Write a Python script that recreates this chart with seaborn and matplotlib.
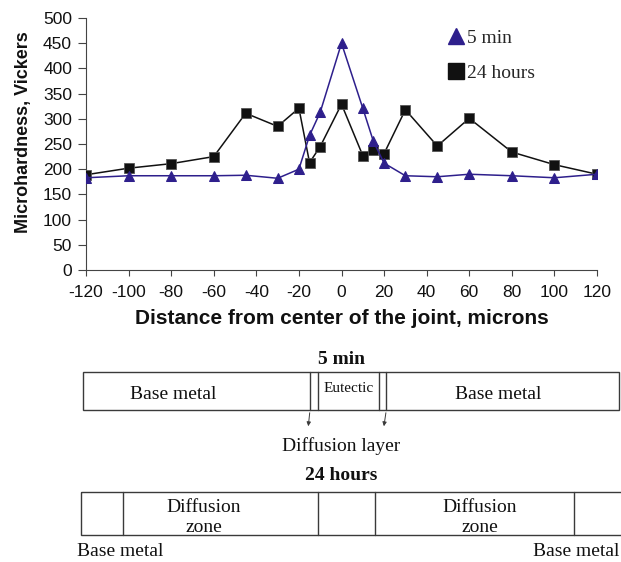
import matplotlib
matplotlib.use("Agg")
import matplotlib.pyplot as plt
from matplotlib.lines import Line2D
from matplotlib.patches import Rectangle
import seaborn as sns
import pandas as pd

# ---- data ----
dist_5min = [-120, -100, -80, -60, -45, -30, -20, -15, -10, 0, 10, 15, 20, 30, 45, 60, 80, 100, 120]
hv_5min = [183, 187, 187, 187, 188, 182, 200, 267, 313, 450, 321, 255, 212, 187, 185, 190, 187, 183, 190]
dist_24h = [-120, -100, -80, -60, -45, -30, -20, -15, -10, 0, 10, 15, 20, 30, 45, 60, 80, 100, 120]
hv_24h = [189, 202, 211, 225, 311, 285, 321, 213, 245, 329, 227, 239, 231, 318, 246, 301, 234, 209, 190]
series_names = ["5 min", "24 hours"]
x_ticks = list(range(-120, 121, 20))
y_ticks = list(range(0, 501, 50))

df = pd.concat([
    pd.DataFrame({"x": dist_5min, "y": hv_5min, "series": series_names[0]}),
    pd.DataFrame({"x": dist_24h, "y": hv_24h, "series": series_names[1]}),
])

sns.set_style("ticks")
plt.rcParams["font.family"] = ["Liberation Sans", "DejaVu Sans"]

W, H = 621, 562
fig = plt.figure(figsize=(W / 100, H / 100), dpi=100)
ax = fig.add_axes([86 / W, 1 - 270 / H, (597 - 86) / W, (270 - 18) / H])

blue = "#2e1f8c"
black = "#111111"

sns.lineplot(data=df[df.series == series_names[1]], x="x", y="y", color=black,
             marker="s", markersize=7.5, markeredgecolor="#555555", markeredgewidth=0.6,
             linewidth=1.1, ax=ax, legend=False, zorder=3)
sns.lineplot(data=df[df.series == series_names[0]], x="x", y="y", color=blue,
             marker="^", markersize=7.5, markeredgecolor=blue,
             linewidth=1.1, ax=ax, legend=False, zorder=4)

ax.set_xlim(-120, 120)
ax.set_ylim(0, 500)
ax.set_xticks(x_ticks)
ax.set_yticks(y_ticks)
ax.set_xticklabels([str(t) for t in x_ticks])
ax.tick_params(axis="both", labelsize=12.5, width=0.8, color="#444444",
               direction="out", labelcolor="#111111")
ax.tick_params(axis="x", length=4, pad=7)
ax.tick_params(axis="y", length=6, pad=4)
for s in ["top", "right"]:
    ax.spines[s].set_visible(False)
for s in ["left", "bottom"]:
    ax.spines[s].set_color("#444444")
    ax.spines[s].set_linewidth(0.8)

ax.set_xlabel("Distance from center of the joint, microns", fontsize=15, fontweight="bold",
              labelpad=6, color="#111111")
ax.set_ylabel("Microhardness, Vickers", fontsize=13, fontweight="bold",
              color="#111111")
ax.yaxis.set_label_coords(-0.106, 0.546)

handles = [Line2D([], [], linestyle="none", marker="^", color=blue, markersize=11),
           Line2D([], [], linestyle="none", marker="s", color=black, markersize=11)]
leg = fig.legend(handles, series_names, loc="upper left",
                 bbox_to_anchor=(448 / W, 1 - 29 / H), frameon=False,
                 prop={"family": "Liberation Serif", "size": 14},
                 handlelength=0.8, handletextpad=0.2, labelspacing=0.9,
                 borderaxespad=0, borderpad=0)

# ---- schematic diagram below the chart ----
d = fig.add_axes([0, 0, 1, 1])
d.set_xlim(0, W)
d.set_ylim(H, 0)
d.axis("off")
d.patch.set_alpha(0)
lc = "#3a3a3a"
serif = "Liberation Serif"
kw = dict(ha="center", va="baseline", family=serif, fontsize=14, color="#111111")

d.text(341, 364, "5 min", fontweight="bold", **kw)
d.add_patch(Rectangle((82.5, 371.5), 619 - 82.5, 410 - 371.5, fill=False, ec=lc, lw=1))
for xv in [310, 317.5, 379.3, 386.3]:
    d.plot([xv, xv], [371.5, 410], color=lc, lw=1)
d.annotate("", xy=(308, 429), xytext=(310, 410),
           arrowprops=dict(arrowstyle="-|>", color=lc, lw=0.7, mutation_scale=6))
d.annotate("", xy=(383.5, 429), xytext=(386.3, 410),
           arrowprops=dict(arrowstyle="-|>", color=lc, lw=0.7, mutation_scale=6))
d.text(173, 399, "Base metal", **kw)
d.text(348.5, 392, "Eutectic", ha="center", va="baseline", family=serif, fontsize=11,
       color="#111111")
d.text(498, 399, "Base metal", **kw)
d.text(341, 451, "Diffusion layer", **kw)

d.text(341, 480, "24 hours", fontweight="bold", **kw)
d.add_patch(Rectangle((80.7, 491.7), 640 - 80.7, 535 - 491.7, fill=False, ec=lc, lw=1))
for xv in [122.7, 318.3, 375, 573.7]:
    d.plot([xv, xv], [491.7, 535], color=lc, lw=1)
for cx in [204, 480]:
    d.text(cx, 511.5, "Diffusion", **kw)
    d.text(cx, 531.5, "zone", **kw)
d.text(77, 556.5, "Base metal", ha="left", va="baseline", family=serif, fontsize=14, color="#111111")
d.text(619.5, 556.5, "Base metal", ha="right", va="baseline", family=serif, fontsize=14, color="#111111")

fig.savefig("out.png", dpi=100)
